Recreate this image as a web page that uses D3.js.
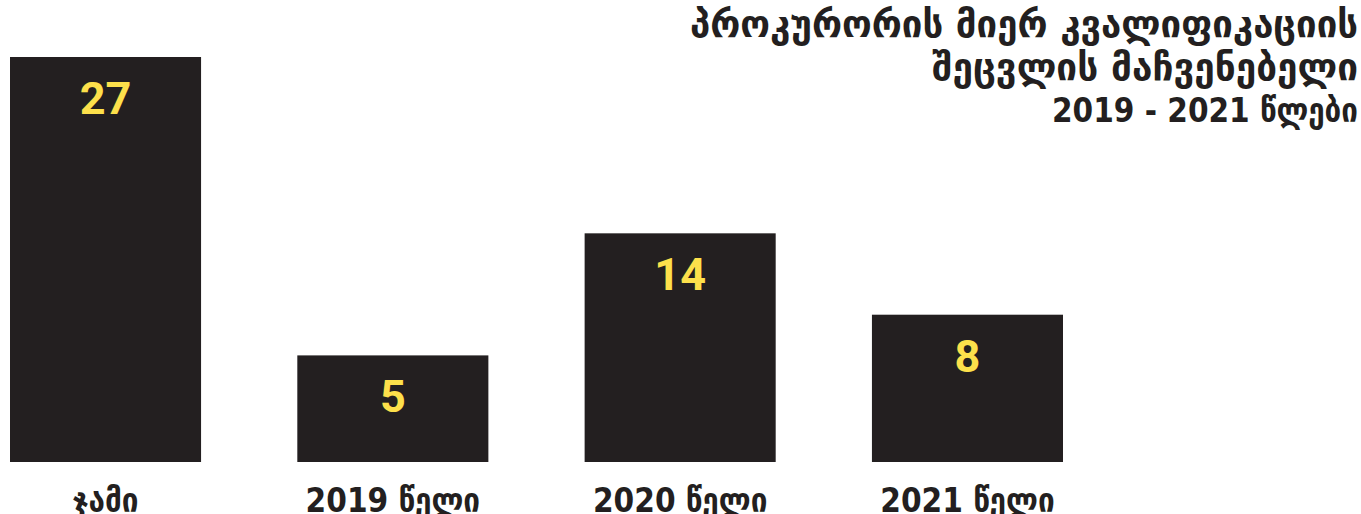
<!DOCTYPE html>
<html>
<head>
<meta charset="utf-8">
<script src="https://cdn.jsdelivr.net/npm/d3@7"></script>
<style>
  html, body { margin: 0; padding: 0; background: #fff; }
  svg { display: block; }
</style>
</head>
<body>
<svg id="chart"></svg>
<script>
// Data
const categories = ["ჯამი", "2019 წელი", "2020 წელი", "2021 წელი"];
const values = [27, 5, 14, 8];
const titleLines = [
    "პროკურორის მიერ კვალიფიკაციის",
    "შეცვლის მაჩვენებელი",
    "2019 - 2021 წლები"
];

const width = 1361;
const height = 514;
const font = "'DejaVu Sans Condensed', 'DejaVu Sans', sans-serif";

const svg = d3.select("#chart")
    .attr("width", width)
    .attr("height", height);

// Scales
const x = d3.scaleBand()
    .domain(categories)
    .range([10, 1063])
    .paddingInner(0.335)
    .paddingOuter(0);

// bars in the picture stand on a baseline a little below zero
const y = d3.scaleLinear()
    .domain([-2.86, 27])
    .range([462, 57]);

// Bars
svg.append("g")
    .selectAll("rect")
    .data(values)
    .join("rect")
    .attr("x", (d, i) => x(categories[i]))
    .attr("y", d => y(d))
    .attr("width", x.bandwidth())
    .attr("height", d => y(y.domain()[0]) - y(d))
    .attr("fill", "#231f20");

// Value labels
svg.append("g")
    .selectAll("text")
    .data(values)
    .join("text")
    .attr("x", (d, i) => x(categories[i]) + x.bandwidth() / 2)
    .attr("y", d => y(d) + 57)
    .attr("text-anchor", "middle")
    .style("font-family", "Roboto, sans-serif")
    .style("font-weight", "bold")
    .style("font-size", "45px")
    .attr("fill", "#fde04b")
    .text(d => d);

// Category labels
svg.append("g")
    .selectAll("text")
    .data(categories)
    .join("text")
    .attr("x", d => x(d) + x.bandwidth() / 2)
    .attr("y", 512)
    .attr("text-anchor", "middle")
    .style("font-family", font)
    .style("font-weight", "bold")
    .style("font-size", "33px")
    .attr("fill", "#231f20")
    .text(d => d);

// Title, right aligned
const titleWidths = [668, 426, 306];
svg.append("g")
    .selectAll("text")
    .data(titleLines)
    .join("text")
    .attr("x", 1358)
    .attr("y", (d, i) => 37 + i * 42.5)
    .attr("text-anchor", "end")
    .attr("textLength", (d, i) => titleWidths[i])
    .attr("lengthAdjust", "spacingAndGlyphs")
    .style("font-family", font)
    .style("font-weight", "bold")
    .style("font-size", (d, i) => i < 2 ? "38px" : "34px")
    .attr("fill", "#231f20")
    .text(d => d);
</script>
</body>
</html>
